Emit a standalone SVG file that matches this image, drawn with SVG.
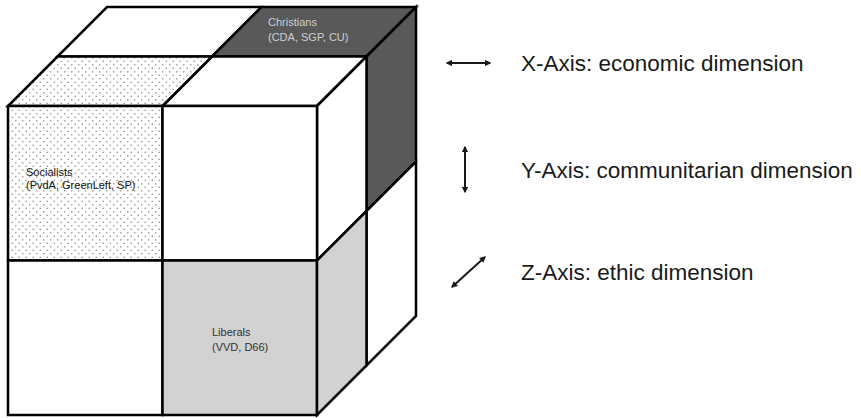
<svg xmlns="http://www.w3.org/2000/svg" width="861" height="418" viewBox="0 0 861 418">
<style>
.face{stroke:#000;stroke-width:2.5;stroke-linejoin:miter}
.w{fill:#fff}
.dark{fill:#595959}
.light{fill:#d2d2d2}
.dot{fill:url(#dots)}
.lbl{font-family:"Liberation Sans",Arial,sans-serif;font-size:11px}
.leg{font-family:"Liberation Sans",Arial,sans-serif;font-size:22.5px;fill:#1a1a1a}
.ax{stroke:#1a1a1a;stroke-width:2;fill:none;marker-start:url(#ah);marker-end:url(#ah)}
</style>
<defs>
<pattern id="dots" width="7" height="7" patternUnits="userSpaceOnUse">
<rect width="7" height="7" fill="#fff"/>
<circle cx="1.75" cy="1.75" r="0.85" fill="#9a9a9a"/>
<circle cx="5.25" cy="5.25" r="0.85" fill="#9a9a9a"/>
</pattern>
<marker id="ah" viewBox="0 0 10 10" refX="8" refY="5" markerWidth="3.2" markerHeight="3.2" orient="auto-start-reverse">
<path d="M0,0 L10,5 L0,10 Z" fill="#1a1a1a"/>
</marker>
</defs>
<rect width="861" height="418" fill="#fff"/>
<g id="cube">
<g id="top-back-left"><polygon class="face w" points="57.5,56.5 212,56.5 261.5,7 107,7"/></g>
<g id="christians">
<polygon class="face dark" points="212,56.5 366.5,56.5 416,7 261.5,7"/>
<polygon class="face dark" points="366.5,56.5 416,7 416,161.5 366.5,211"/>
<text class="lbl" x="268" y="26" fill="#cfcfcf">Christians</text>
<text class="lbl" x="268" y="41" fill="#cfcfcf">(CDA, SGP, CU)</text>
</g>
<g id="top-front-right"><polygon class="face w" points="162.5,106 317,106 366.5,56.5 212,56.5"/></g>
<g id="right-top-front"><polygon class="face w" points="317,106 366.5,56.5 366.5,211 317,260.5"/></g>
<g id="right-bottom-back"><polygon class="face w" points="366.5,211 416,161.5 416,316 366.5,365.5"/></g>
<g id="socialists">
<polygon class="face dot" points="8,106 162.5,106 212,56.5 57.5,56.5"/>
<rect class="face dot" x="8" y="106" width="154.5" height="154.5"/>
<text class="lbl" x="26" y="176" fill="#111">Socialists</text>
<text class="lbl" x="26" y="188.5" fill="#111">(PvdA, GreenLeft, SP)</text>
</g>
<g id="front-top-right"><rect class="face w" x="162.5" y="106" width="154.5" height="154.5"/></g>
<g id="front-bottom-left"><rect class="face w" x="8" y="260.5" width="154.5" height="154.5"/></g>
<g id="liberals">
<rect class="face light" x="162.5" y="260.5" width="154.5" height="154.5"/>
<polygon class="face light" points="317,260.5 366.5,211 366.5,365.5 317,415"/>
<text class="lbl" x="212" y="336" fill="#333">Liberals</text>
<text class="lbl" x="212" y="351" fill="#333">(VVD, D66)</text>
</g>
</g>
<g id="connectors">
<line class="ax" x1="447" y1="63" x2="490" y2="63"/>
<line class="ax" x1="465" y1="147" x2="465" y2="192"/>
<line class="ax" x1="452" y1="287" x2="485" y2="257"/>
</g>
<g id="legend">
<text class="leg" x="521" y="71">X-Axis: economic dimension</text>
<text class="leg" x="521" y="178">Y-Axis: communitarian dimension</text>
<text class="leg" x="521" y="280">Z-Axis: ethic dimension</text>
</g>
</svg>
